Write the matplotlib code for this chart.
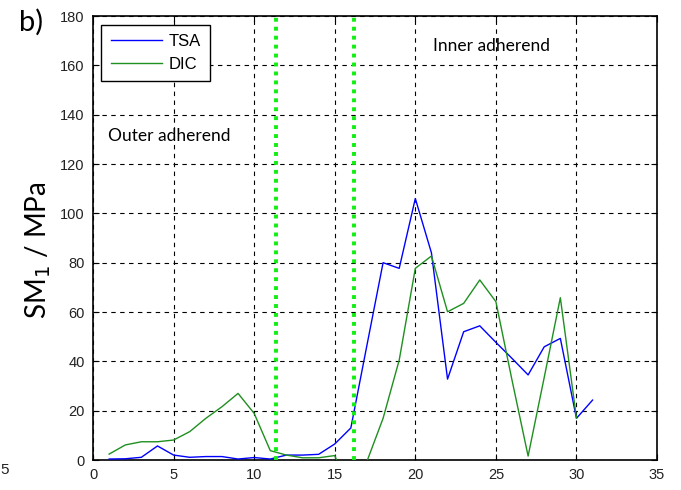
import numpy as np
import matplotlib
matplotlib.use('Agg')
import matplotlib.pyplot as plt

# dane
x_tsa = list(range(1, 32))
tsa = [0.4, 0.5, 1.1, 5.7, 2.0, 1.1, 1.4, 1.4, 0.4, 1.0, 0.4, 2.0, 2.0, 2.3, 6.5,
       13.0, 46.6, 80.0, 77.7, 106.0, 84.0, 32.8, 52.0, 54.4, 47.7, 41.2, 34.5,
       45.9, 49.3, 16.9, 24.3]
x_dic = list(range(1, 31))
dic = [2.4, 6.1, 7.4, 7.4, 8.1, 11.5, 16.9, 21.6, 27.0, 18.9, 3.8, 2.0, 0.9, 0.9, 1.8,
       -15.0, -0.5, 16.9, 40.5, 77.7, 82.7, 60.1, 63.5, 73.0, 64.2, 32.4, 1.6,
       33.5, 65.8, 17.0]
boundaries = [11.35, 16.2]
xticks = list(range(0, 36, 5))
yticks = list(range(0, 181, 20))

fig = plt.figure(figsize=(6.81, 4.90), dpi=100)
ax = fig.add_axes([0.1366, 0.0612, 0.8282, 0.9061])

ax.plot(x_tsa, tsa, color='#0000ff', lw=1.0, label='TSA', zorder=3)
ax.plot(x_dic, dic, color='#1f8f1f', lw=1.0, label='DIC', zorder=3)
for b in boundaries:
    ax.axvline(b, color='#11ee11', lw=2.8, linestyle=(0, (1, 1.3)), zorder=4)

ax.set_xlim(0, 35)
ax.set_ylim(0, 180)
ax.set_xticks(xticks)
ax.set_yticks(yticks)
ax.grid(True, color='black', linestyle=(0, (4, 4)), lw=0.8)
ax.tick_params(direction='in', length=4, top=True, right=True, labelsize=10.5,
               labelcolor='#222222', pad=6)
for lab in ax.get_xticklabels() + ax.get_yticklabels():
    lab.set_family('Liberation Sans')
for s in ax.spines.values():
    s.set_linewidth(1.2)

leg = ax.legend(loc='upper left', bbox_to_anchor=(0.015, 0.98), fancybox=False,
                edgecolor='black', framealpha=1, handlelength=3.1,
                prop={'family': 'Liberation Sans', 'size': 12},
                borderaxespad=0, labelspacing=0.45, handletextpad=0.4,
                borderpad=0.55)
leg.get_frame().set_linewidth(1.0)

ax.text(0.9, 131.5, 'Outer adherend', fontsize=12.5, family='Lato', va='center')
ax.text(21.1, 168, 'Inner adherend', fontsize=12.5, family='Lato', va='center')

fig.text(0.056, 0.49, 'SM$_1$ / MPa', rotation=90, fontsize=20, family='Lato',
         ha='center', va='center')
fig.text(0.028, 0.955, 'b)', fontsize=21, family='Lato', ha='left', va='center')
fig.text(0.001, 0.04, '5', fontsize=11, family='Liberation Sans', ha='left',
         va='center', color='#222222')

fig.savefig('out.png', dpi=100)
